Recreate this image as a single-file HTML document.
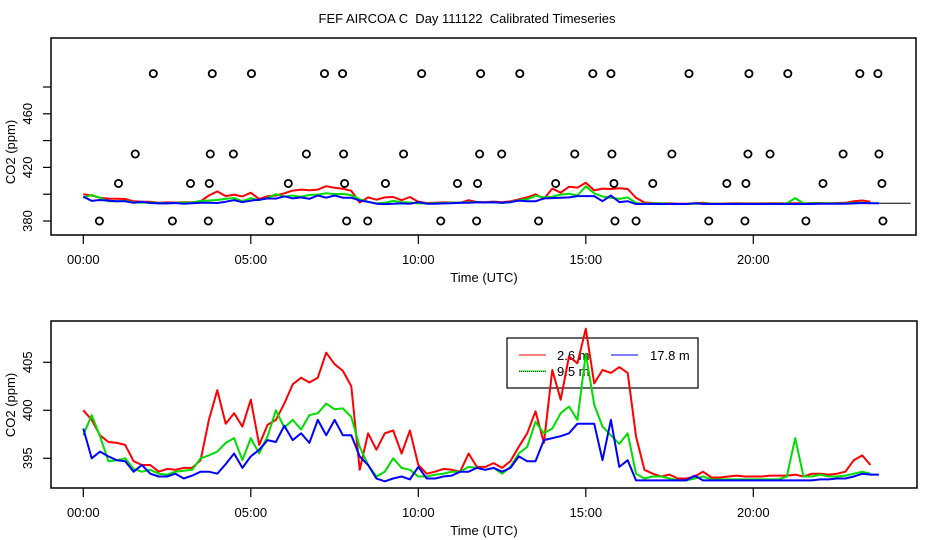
<!DOCTYPE html>
<html><head><meta charset="utf-8"><style>
body{margin:0;background:#fff}
svg{display:block;font-family:"Liberation Sans",Arial,sans-serif}
</style></head><body>
<svg id="chart" width="936" height="540" viewBox="0 0 936 540" xmlns="http://www.w3.org/2000/svg">
<defs>
<clipPath id="clipTop"><rect x="51" y="38" width="865" height="197"/></clipPath>
<clipPath id="clipBot"><rect x="51" y="321" width="866" height="167"/></clipPath>
</defs>
<rect width="936" height="540" fill="#fff"/>
<text x="467" y="23" text-anchor="middle" font-size="13" style="white-space:pre">FEF AIRCOA C  Day 111122  Calibrated Timeseries</text>
<g id="topPanel"></g>
<g id="botPanel"></g>
</svg>
<script>
const hourTicks = [0, 5, 10, 15, 20];
const hourTickLabels = ["00:00", "05:00", "10:00", "15:00", "20:00"];
const topYTicks = [380, 400, 420, 440, 460, 480];
const topYLabels = ["380", "", "420", "", "460", ""];
const botYTicks = [395, 400, 405];
const botYLabels = ["395", "400", "405"];
const stepHours = 0.25;
const red26 = [400.0,399.0,397.4,396.7,396.6,396.4,394.7,394.3,394.3,393.6,393.9,393.8,394.0,394.0,394.8,399.0,402.1,398.6,399.7,398.3,401.1,396.4,398.5,399.0,400.7,402.7,403.4,402.9,403.4,406.0,404.8,404.1,402.5,393.8,397.6,395.9,397.6,397.9,395.5,397.9,394.3,393.4,393.6,393.9,393.8,393.6,395.5,394.1,394.1,394.5,394.0,394.7,396.2,397.6,399.9,396.6,404.2,401.1,405.6,404.9,408.5,402.8,404.2,403.9,404.5,403.9,397.3,393.8,393.4,393.1,393.3,392.9,392.9,393.1,393.6,393.0,393.0,393.1,393.2,393.1,393.1,393.1,393.2,393.2,393.2,393.3,393.1,393.4,393.4,393.3,393.4,393.6,394.8,395.3,394.3];
const green95 = [397.4,399.5,397.3,394.7,394.8,395.0,393.9,393.6,393.8,393.4,393.3,393.6,393.7,393.8,395.0,395.3,395.7,396.6,397.1,394.8,397.1,395.5,397.3,400.0,398.2,399.0,398.0,399.5,399.7,400.7,400.1,400.2,399.3,396.2,394.3,393.1,393.6,395.0,394.0,393.8,393.1,393.1,393.3,393.4,393.6,393.6,394.1,394.0,393.8,394.0,393.4,394.1,395.5,396.2,398.8,397.6,398.1,399.7,400.4,399.0,405.9,400.6,398.3,397.4,396.5,397.6,393.4,392.9,393.1,393.1,392.9,392.7,392.7,392.9,393.1,392.8,392.8,392.8,392.8,392.8,392.8,392.8,392.8,392.8,393.1,397.1,393.1,393.1,393.3,393.1,393.1,393.2,393.4,393.6,393.4];
const blue178 = [398.1,395.0,395.7,395.2,394.8,394.7,393.6,394.3,393.4,393.1,393.1,393.4,392.9,393.2,393.6,393.6,393.4,394.4,395.5,394.0,395.2,395.9,396.9,396.7,398.4,396.9,397.6,396.6,399.0,397.4,399.0,397.4,397.4,395.2,394.3,392.9,392.6,392.9,393.1,392.8,394.1,392.9,392.9,393.1,393.2,393.6,393.6,394.0,393.8,394.0,393.6,394.0,395.2,394.7,394.7,396.9,397.1,397.3,397.6,398.6,398.6,398.6,394.8,399.0,394.1,394.8,392.7,392.7,392.7,392.7,392.7,392.7,392.7,393.2,392.7,392.7,392.7,392.7,392.7,392.7,392.7,392.7,392.7,392.7,392.7,392.7,392.7,392.7,392.8,392.8,392.9,392.9,393.1,393.4,393.3,393.3];
const flag490Hours = [2.09,3.85,5.02,7.20,7.74,10.10,11.86,13.03,15.21,15.75,18.08,19.87,21.03,23.18,23.72];
const flag430Hours = [1.55,3.79,4.48,6.66,7.77,9.56,11.83,12.49,14.67,15.78,17.57,19.84,20.50,22.68,23.75];
const flag408Hours = [1.05,3.20,3.76,6.12,7.80,9.02,11.17,11.77,14.10,15.84,17.00,19.21,19.78,22.08,23.84];
const flag380Hours = [0.48,2.66,3.73,5.56,7.86,8.49,10.67,11.74,13.59,15.87,16.50,18.67,19.75,21.57,23.87];
const flagLevels = [490, 430, 408, 380];

const NS = "http://www.w3.org/2000/svg";
function mk(tag, attrs, parent){ const e=document.createElementNS(NS,tag); for(const k in attrs) e.setAttribute(k,attrs[k]); parent.appendChild(e); return e; }
const xOf = h => 83.3 + 33.5*h;
const yTop = v => 221 - (v-380)*1.34;
const yBot = v => 458.3 - (v-395)*9.6;

function axes(g, box, yfun, yt, yl, labelY, labelCY){
  const r = mk('rect',{x:box[0],y:box[1],width:box[2],height:box[3],fill:'none',stroke:'#000','stroke-width':1.5},g);
  
  
  const bottom = box[1]+box[3];
  hourTicks.forEach((h,i)=>{
    const t = mk('line',{x1:xOf(h),x2:xOf(h),y1:bottom,y2:bottom+9,stroke:'#000','stroke-width':1.2},g);
    
    
    const tx = mk('text',{x:xOf(h),y:bottom+29,'text-anchor':'middle','font-size':13},g);
    tx.textContent = hourTickLabels[i];
    
    
  });
  const xt = mk('text',{x:484,y:bottom+47,'text-anchor':'middle','font-size':13},g);
  xt.textContent = 'Time (UTC)';
  
  
  yt.forEach((v,i)=>{
    const y = yfun(v);
    const t = mk('line',{x1:box[0]-8,x2:box[0],y1:y,y2:y,stroke:'#000','stroke-width':1.2},g);
    
    
    if(yl[i]){
      const tx = mk('text',{x:0,y:0,'text-anchor':'middle','font-size':13,transform:`translate(32,${y}) rotate(-90)`},g);
      tx.textContent = yl[i];
      
      
    }
  });
  const yt2 = mk('text',{x:0,y:0,'text-anchor':'middle','font-size':13,transform:`translate(15,${labelCY}) rotate(-90)`},g);
  yt2.textContent = labelY;
  
  
}
function series(g, vals, yfun, color, clip, name, extra){
  const pts = vals.map((v,i)=>xOf(i*stepHours).toFixed(1)+','+yfun(v).toFixed(1));
  if(extra) pts.push(xOf(extra[0]).toFixed(1)+','+yfun(extra[1]).toFixed(1));
  const p = mk('polyline',{points:pts.join(' '),fill:'none',stroke:color,'stroke-width':color==='#000'?1:2,'stroke-linejoin':'round','clip-path':`url(#${clip})`},g);
  
  
}

const topG = document.getElementById('topPanel');
axes(topG,[51,38,865,197],yTop,topYTicks,topYLabels,'CO2 (ppm)',152);
series(topG, blue178, yTop, '#000', 'clipTop', 'black-reference-line', [24.7, 393.3]);
series(topG, red26, yTop, '#ff0000', 'clipTop', 'line-2-6m-top');
series(topG, green95, yTop, '#00dd00', 'clipTop', 'line-9-5m-top');
series(topG, blue178, yTop, '#0000ff', 'clipTop', 'line-17-8m-top');
[flag490Hours, flag430Hours, flag408Hours, flag380Hours].forEach((arr,k)=>{
  arr.forEach(h=>{
    const c = mk('circle',{cx:xOf(h),cy:yTop(flagLevels[k]),r:3.6,fill:'none',stroke:'#000','stroke-width':1.8},topG);
    
    
  });
});

const botG = document.getElementById('botPanel');
axes(botG,[51,321,866,167],yBot,botYTicks,botYLabels,'CO2 (ppm)',405);
const lg = mk('g',{},botG);


mk('rect',{x:507,y:338,width:191,height:50,fill:'#fff',stroke:'#000','stroke-width':1.2},lg);
const legendItems = [['2.6 m','#ff0000',519,355,557],['17.8 m','#0000ff',611,355,650],['9.5 m','#00dd00',519,371,557]];
legendItems.forEach(it=>{
  const l = mk('line',{x1:it[2],x2:it[2]+27,y1:it[3],y2:it[3],stroke:it[1],'stroke-width':1},lg);
  
  
  if(it[0]==='9.5 m') mk('line',{x1:it[2],x2:it[2]+27,y1:it[3]+0.5,y2:it[3]+0.5,stroke:'#000','stroke-width':0.8,'stroke-dasharray':'1,1'},lg);
  const t = mk('text',{x:it[4],y:it[3]+5,'font-size':13},lg);
  t.textContent = it[0];
  
  
});
series(botG, red26, yBot, '#ff0000', 'clipBot', 'line-2-6m');
series(botG, green95, yBot, '#00dd00', 'clipBot', 'line-9-5m');
series(botG, blue178, yBot, '#0000ff', 'clipBot', 'line-17-8m');
</script>
</body></html>
